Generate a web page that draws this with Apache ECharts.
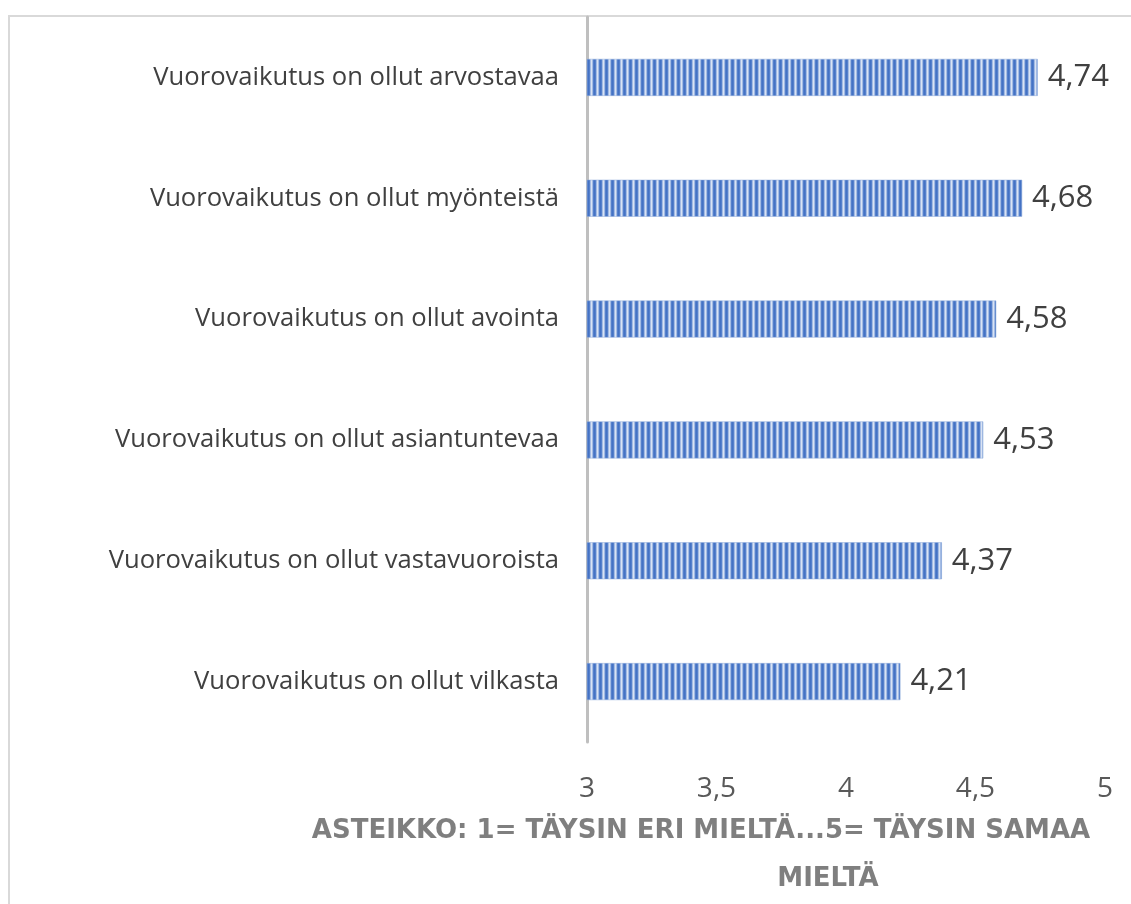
<!DOCTYPE html>
<html lang="fi">
<head>
    <meta charset="utf-8">
    <title>Vuorovaikutus</title>
    <script src="https://cdn.jsdelivr.net/npm/echarts@6/dist/echarts.min.js"></script>
    <style>
        html, body { margin: 0; padding: 0; background: #fff; }
        #chart { width: 1131px; height: 904px; }
    </style>
</head>
<body>
    <div id="chart"></div>
    <script>
        // kysymykset ylhäältä alas
        var categories = [
            'Vuorovaikutus on ollut arvostavaa',
            'Vuorovaikutus on ollut myönteistä',
            'Vuorovaikutus on ollut avointa',
            'Vuorovaikutus on ollut asiantuntevaa',
            'Vuorovaikutus on ollut vastavuoroista',
            'Vuorovaikutus on ollut vilkasta'
        ];
        var values = [4.74, 4.68, 4.58, 4.53, 4.37, 4.21];
        var axisTicks = [3, 3.5, 4, 4.5, 5];
        var titleLines = ['ASTEIKKO: 1= TÄYSIN ERI MIELTÄ...5= TÄYSIN SAMAA', 'MIELTÄ'];

        function comma(v) {
            return String(v).replace('.', ',');
        }

        // pystyraidat palkkeihin
        var cv = document.createElement('canvas');
        cv.width = 6;
        cv.height = 4;
        var ctx = cv.getContext('2d');
        var stripes = ['#4472C4', '#5580cb', '#a3bbe4', '#d9e3f4', '#a3bbe4', '#5580cb'];
        for (var i = 0; i < stripes.length; i++) {
            ctx.fillStyle = stripes[i];
            ctx.fillRect(i, 0, 1, 4);
        }

        var chart = echarts.init(document.getElementById('chart'));
        var option = {
            animation: false,
            grid: { left: 587, right: 26, top: 17, bottom: 162, containLabel: false },
            xAxis: {
                type: 'value',
                min: axisTicks[0],
                max: axisTicks[axisTicks.length - 1],
                interval: 0.5,
                axisLine: { show: false },
                axisTick: { show: false },
                splitLine: { show: false },
                axisLabel: {
                    margin: 33,
                    color: '#595959',
                    fontSize: 28,
                    fontFamily: 'Open Sans',
                    formatter: function (v) { return comma(v); }
                }
            },
            yAxis: {
                type: 'category',
                inverse: true,
                data: categories,
                axisLine: { show: true, lineStyle: { color: '#BFBFBF', width: 3 } },
                axisTick: { show: false },
                axisLabel: {
                    margin: 28,
                    color: '#404040',
                    fontSize: 25.6,
                    fontFamily: 'Open Sans'
                }
            },
            series: [{
                type: 'bar',
                data: values,
                barWidth: 37,
                itemStyle: {
                    color: { image: cv, repeat: 'repeat' },
                    borderColor: '#8eaadb',
                    borderWidth: 0.5
                },
                label: {
                    show: true,
                    position: 'right',
                    distance: 10,
                    color: '#404040',
                    fontSize: 31,
                    fontFamily: 'Open Sans',
                    formatter: function (p) { return comma(p.value); }
                }
            }],
            graphic: [
                {
                    type: 'rect',
                    shape: { x: 9, y: 16, width: 1300, height: 1000 },
                    style: { fill: 'none', stroke: '#D9D9D9', lineWidth: 2 },
                    silent: true
                },
                {
                    type: 'text',
                    x: 701,
                    y: 831,
                    style: {
                        text: titleLines[0],
                        textAlign: 'center',
                        textVerticalAlign: 'middle',
                        fill: '#7F7F7F',
                        font: 'bold 26px "DejaVu Sans"'
                    }
                },
                {
                    type: 'text',
                    x: 828,
                    y: 879,
                    style: {
                        text: titleLines[1],
                        textAlign: 'center',
                        textVerticalAlign: 'middle',
                        fill: '#7F7F7F',
                        font: 'bold 26px "DejaVu Sans"'
                    }
                }
            ]
        };
        chart.setOption(option);
    </script>
</body>
</html>
